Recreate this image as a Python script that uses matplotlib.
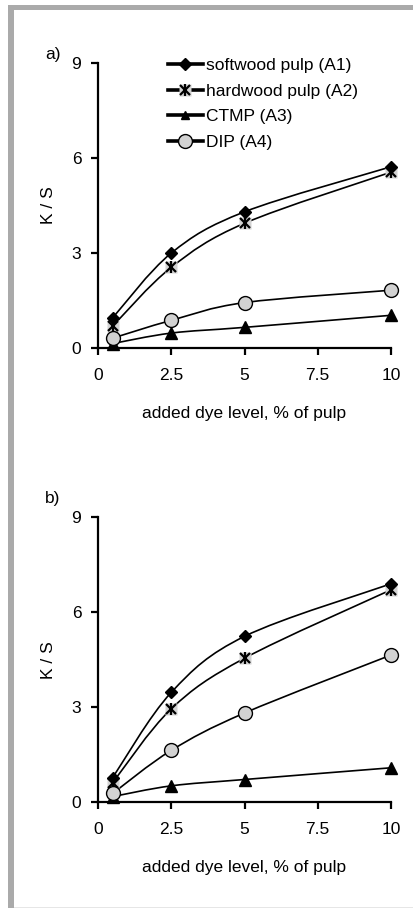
"""
K/S vs added dye level for four pulps, two panels (a, b).
Smoothed connecting lines drawn as Bezier paths through the measured points.
"""
import numpy as np
import matplotlib
matplotlib.use("Agg")
import matplotlib.pyplot as plt
from matplotlib.path import Path
from matplotlib.patches import PathPatch, Rectangle
from matplotlib.lines import Line2D
from matplotlib.legend_handler import HandlerTuple

plt.rcParams["font.family"] = ["Liberation Sans", "DejaVu Sans"]
plt.rcParams["font.size"] = 12.5

dye_level = [0.5, 2.5, 5, 10]
x_ticks = [0, 2.5, 5, 7.5, 10]
x_tick_labels = ["0", "2.5", "5", "7.5", "10"]
y_ticks = [0, 3, 6, 9]

series_labels = ["softwood pulp (A1)", "hardwood pulp (A2)", "CTMP (A3)", "DIP (A4)"]

# panel a)
a_softwood = [0.96, 3.0, 4.3, 5.72]
a_hardwood = [0.70, 2.55, 3.94, 5.55]
a_ctmp = [0.15, 0.48, 0.66, 1.04]
a_dip = [0.32, 0.88, 1.44, 1.83]

# panel b)
b_softwood = [0.78, 3.47, 5.24, 6.9]
b_hardwood = [0.62, 2.95, 4.55, 6.71]
b_ctmp = [0.18, 0.52, 0.72, 1.09]
b_dip = [0.28, 1.64, 2.82, 4.65]

GRAY = "#d2d2d2"
FS = 12.5
W, H = 414, 908


def smooth_path(ax, x, y, lw=1.2):
    """Catmull-Rom style Bezier curve through the points (Excel-like smoothed line)."""
    p = np.column_stack([x, y]).astype(float)
    n = len(p)
    verts = [p[0]]
    codes = [Path.MOVETO]
    for i in range(n - 1):
        p0 = p[i - 1] if i > 0 else p[i]
        p1, p2 = p[i], p[i + 1]
        p3 = p[i + 2] if i + 2 < n else p[i + 1]
        c1 = p1 + (p2 - p0) / 6.0
        c2 = p2 - (p3 - p1) / 6.0
        verts += [c1, c2, p2]
        codes += [Path.CURVE4] * 3
    ax.add_patch(PathPatch(Path(verts, codes), fill=False, edgecolor="black", lw=lw,
                           zorder=2, capstyle="round", joinstyle="round", clip_on=False))


def draw_markers(ax, kind, y):
    kw = dict(ls="none", clip_on=False)
    if kind == "softwood":
        ax.plot(dye_level, y, marker="D", ms=6.5, color="black", zorder=4, **kw)
    elif kind == "hardwood":
        ax.plot(dye_level, y, marker="s", ms=9, color=GRAY, mec="none", zorder=3, **kw)
        ax.plot(dye_level, y, marker="x", ms=7, mew=1.6, color="black", zorder=4, **kw)
        ax.plot(dye_level, y, marker="|", ms=8, mew=1.6, color="black", zorder=4, **kw)
    elif kind == "ctmp":
        ax.plot(dye_level, y, marker="^", ms=8.5, color="black", zorder=4, **kw)
    elif kind == "dip":
        ax.plot(dye_level, y, marker="o", ms=10, mfc=GRAY, mec="black", mew=1.0,
                zorder=4, **kw)


def setup_axes(ax, letter, letter_xy):
    ax.set_xlim(0, 10)
    ax.set_ylim(0, 9)
    ax.set_xticks(x_ticks)
    ax.set_xticklabels(x_tick_labels)
    ax.set_yticks(y_ticks)
    for s in ["top", "right"]:
        ax.spines[s].set_visible(False)
    for s in ["left", "bottom"]:
        ax.spines[s].set_linewidth(1.6)
    ax.tick_params(direction="out", length=5, width=1.6, labelsize=FS)
    ax.tick_params(axis="x", pad=9)
    ax.tick_params(axis="y", pad=7)
    ax.set_ylabel("K / S", fontsize=FS, labelpad=11)
    ax.set_xlabel("added dye level, % of pulp", fontsize=FS, labelpad=17)
    fig.text(letter_xy[0] / W, 1 - letter_xy[1] / H, letter, fontsize=FS,
             ha="left", va="center")
    ax.patch.set_alpha(0)


fig = plt.figure(figsize=(W / 100, H / 100), dpi=100)

# gray frame (top and left)
fig.patches.append(Rectangle((8 / W, 898 / H), 406 / W, 5 / H, transform=fig.transFigure,
                             facecolor="#aaaaaa", edgecolor="none"))
fig.patches.append(Rectangle((8 / W, 0), 6 / W, 903 / H, transform=fig.transFigure,
                             facecolor="#aaaaaa", edgecolor="none"))
fig.patches.append(Rectangle((14 / W, 0), 400 / W, 1.5 / H, transform=fig.transFigure,
                             facecolor="#e6e6e6", edgecolor="none"))

ax_a = fig.add_axes([98 / W, 0.6164, 293 / W, 0.3146])
ax_b = fig.add_axes([98 / W, 0.1164, 293 / W, 0.3139])

for ax, letter, letter_xy, data in [
    (ax_a, "a)", (45, 54), [a_softwood, a_hardwood, a_ctmp, a_dip]),
    (ax_b, "b)", (45, 499), [b_softwood, b_hardwood, b_ctmp, b_dip]),
]:
    setup_axes(ax, letter, letter_xy)
    for kind, y in zip(["softwood", "hardwood", "ctmp", "dip"], data):
        smooth_path(ax, dye_level, y)
        draw_markers(ax, kind, y)

# legend on panel a only
line_kw = dict(color="black", lw=2.6)
h_soft = Line2D([], [], marker="D", ms=6.5, mfc="black", mec="black", **line_kw)
h_hard = (Line2D([], [], marker="s", ms=9, mfc=GRAY, mec="none", **line_kw),
          Line2D([], [], ls="none", marker="x", ms=7, mew=1.6, color="black"),
          Line2D([], [], ls="none", marker="|", ms=8, mew=1.6, color="black"))
h_ctmp = Line2D([], [], marker="^", ms=6, mfc="black", mec="black", **line_kw)
h_dip = Line2D([], [], marker="o", ms=10, mfc=GRAY, mec="black", mew=1.0, **line_kw)

ax_a.legend([h_soft, h_hard, h_ctmp, h_dip], series_labels,
            handler_map={tuple: HandlerTuple(ndivide=1, pad=0)},
            loc="upper left", bbox_to_anchor=(168 / W, 1 - 58 / H), bbox_transform=fig.transFigure,
            frameon=False, fontsize=FS, handlelength=2.0, handletextpad=0.2,
            labelspacing=0.6, borderpad=0, borderaxespad=0)

fig.savefig("out.png", dpi=100)
